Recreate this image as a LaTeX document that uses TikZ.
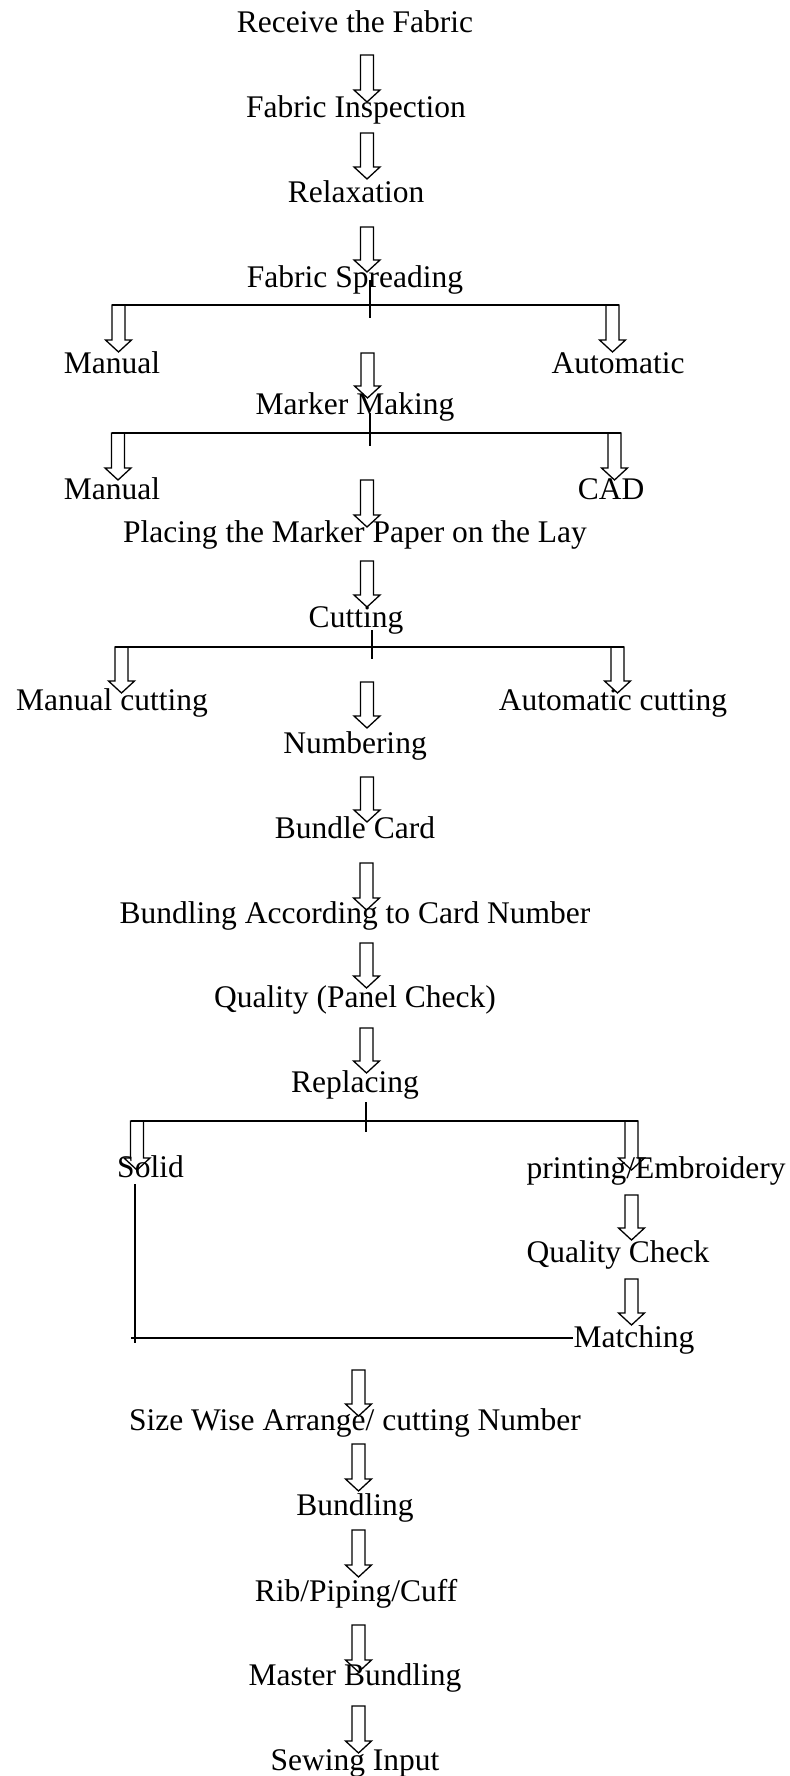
\documentclass[tikz,border=0pt]{standalone}
\usepackage{fontspec}
\setmainfont{Liberation Serif}
\usetikzlibrary{calc}

\tikzset{
  stage/.style={anchor=base, inner sep=0pt, font=\fontsize{15.75}{18}\selectfont},
  blockarrow/.style={line width=0.65pt, line join=miter},
  branch/.style={line width=0.75pt},
}

% hollow down arrow: name, x, top y, tip y
\newcommand{\hollowdown}[4]{%
  \coordinate (#1-top) at (#2,#3);
  \coordinate (#1-tip) at (#2,#4);
  \draw[blockarrow] ($(#1-top)+(-6.5,0)$) -- ($(#1-top)+(6.5,0)$)
    -- ($(#1-tip)+(6.5,-12)$) -- ($(#1-tip)+(13,-12)$) -- (#1-tip)
    -- ($(#1-tip)+(-13,-12)$) -- ($(#1-tip)+(-6.5,-12)$) -- cycle;
}

\begin{document}
\begin{tikzpicture}[x=0.5pt, y=-0.5pt]
  \useasboundingbox (0,0) rectangle (790,1776);

  % Main chain, top part
  \node[stage] (receive) at (355,33) {Receive the Fabric};
  \hollowdown{a1}{367}{55}{102}
  \node[stage] (inspect) at (356,118) {Fabric Inspection};
  \hollowdown{a2}{367}{133}{179}
  \node[stage] (relax) at (356,203) {Relaxation};
  \hollowdown{a3}{367}{227}{272}
  \node[stage] (spread) at (355,287) {Fabric Spreading};

  % Spreading: manual / automatic
  \coordinate (sp-l) at (112,305);
  \coordinate (sp-r) at (619,305);
  \draw[branch] (sp-l) -- (sp-r);
  \draw[branch] (370,280) -- (370,318);
  \hollowdown{sp1}{118.5}{305}{352}
  \hollowdown{sp2}{612.5}{305}{352}
  \node[stage] (spreadman) at (112,373) {Manual};
  \node[stage] (spreadauto) at (618,373) {Automatic};

  \hollowdown{a4}{367.5}{353}{398}
  \node[stage] (marker) at (355,414) {Marker Making};

  % Marker: manual / CAD
  \coordinate (mk-l) at (112,433);
  \coordinate (mk-r) at (621,433);
  \draw[branch] (mk-l) -- (mk-r);
  \draw[branch] (370,413) -- (370,446);
  \hollowdown{mk1}{118}{433}{480}
  \hollowdown{mk2}{614.5}{433}{480}
  \node[stage] (markerman) at (112,499) {Manual};
  \node[stage] (markercad) at (611,499) {CAD};

  \hollowdown{a5}{367}{480}{527}
  \node[stage] (placing) at (355,542) {Placing the Marker Paper on the Lay};
  \hollowdown{a6}{367}{561}{607}
  \node[stage] (cutting) at (356,627) {Cutting};

  % Cutting: manual / automatic
  \coordinate (ct-l) at (115,647);
  \coordinate (ct-r) at (624,647);
  \draw[branch] (ct-l) -- (ct-r);
  \draw[branch] (372,630) -- (372,659);
  \hollowdown{ct1}{121.5}{647}{693}
  \hollowdown{ct2}{617.5}{647}{693}
  \node[stage] (cutman) at (112,710) {Manual cutting};
  \node[stage] (cutauto) at (613,710) {Automatic cutting};

  \hollowdown{a7}{367}{682}{728}
  \node[stage] (numbering) at (355,753) {Numbering};
  \hollowdown{a8}{367}{777}{822}
  \node[stage] (card) at (355,838) {Bundle Card};
  \hollowdown{a9}{366.5}{863}{910}
  \node[stage] (bundcard) at (355,923) {Bundling According to Card Number};
  \hollowdown{a10}{366.5}{943}{988}
  \node[stage] (panel) at (355,1007) {Quality (Panel Check)};
  \hollowdown{a11}{366.5}{1028}{1073}
  \node[stage] (replacing) at (355,1092) {Replacing};

  % Replacing: solid / printing
  \coordinate (rp-l) at (131,1121);
  \coordinate (rp-r) at (638,1121);
  \draw[branch] (rp-l) -- (rp-r);
  \draw[branch] (366,1102) -- (366,1132);
  \hollowdown{rp1}{137}{1121}{1170}
  \hollowdown{rp2}{631.5}{1121}{1170}
  \node[stage] (solid) at (150.5,1177) {Solid};
  \node[stage] (printemb) at (656,1178) {printing/Embroidery};
  \hollowdown{rp3}{631.5}{1195}{1240}
  \node[stage] (qcheck) at (618,1262) {Quality Check};
  \hollowdown{rp4}{631.5}{1279}{1325}
  \node[stage] (matching) at (634,1347) {Matching};

  % Solid joins back at matching
  \coordinate (sd-top) at (135,1184);
  \coordinate (sd-bot) at (135,1343);
  \coordinate (jn) at (131,1338);
  \draw[branch] (sd-top) -- (sd-bot);
  \draw[branch] (jn) -- (jn -| matching.west);

  % Main chain, bottom part
  \hollowdown{a12}{358.5}{1370}{1416}
  \node[stage] (sizewise) at (355,1430) {Size Wise Arrange/ cutting Number};
  \hollowdown{a13}{358.5}{1444}{1491}
  \node[stage] (bundling) at (355,1515) {Bundling};
  \hollowdown{a14}{358.5}{1530}{1577}
  \node[stage] (rib) at (356,1601) {Rib/Piping/Cuff};
  \hollowdown{a15}{358.5}{1625}{1672}
  \node[stage] (master) at (355,1685) {Master Bundling};
  \hollowdown{a16}{358.5}{1706}{1753}
  \node[stage] (sewing) at (355,1770) {Sewing Input};
\end{tikzpicture}
\end{document}
